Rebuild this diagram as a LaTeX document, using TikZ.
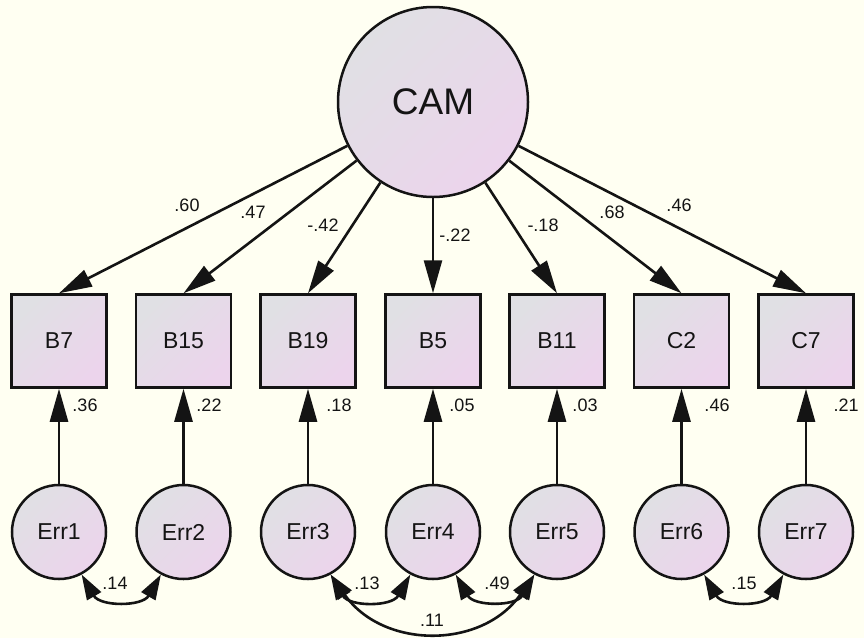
\documentclass[tikz,border=0pt]{standalone}
\usepackage{fontspec}
\setmainfont{Liberation Sans}
\usetikzlibrary{arrows.meta}
\definecolor{bg}{RGB}{255,255,242}
\definecolor{shA}{RGB}{224,224,228}
\definecolor{shB}{RGB}{236,212,236}
\definecolor{ink}{RGB}{20,20,20}
\begin{document}
\begin{tikzpicture}[x=1pt,y=1pt,
  lat/.style={circle, draw=ink, line width=2.5pt, top color=shA, bottom color=shB, shading angle=45, inner sep=0pt, minimum size=94pt, font=\fontsize{23}{25}\selectfont, text=ink},
  obs/.style={rectangle, draw=ink, line width=2.5pt, top color=shA, bottom color=shB, shading angle=45, inner sep=0pt, minimum width=95pt, minimum height=93pt, font=\fontsize{23}{25}\selectfont, text=ink},
  reg/.style={draw=ink, line width=2.6pt, -{Triangle[length=33pt,width=18pt]}},
  cov/.style={draw=ink, line width=2.6pt, {Triangle[length=25pt,width=16pt]}-{Triangle[length=25pt,width=16pt]}},
  lbl/.style={font=\fontsize{18}{20}\selectfont, text=ink, inner sep=0pt}
]
\useasboundingbox (0,0) rectangle (864,-638);
\fill[bg] (0,0) rectangle (864,-638);

\node[lat, minimum size=190pt, font=\fontsize{37}{40}\selectfont] (cam) at (433,-102) {CAM};

\node[obs] (b7)  at (59,-341)  {B7};
\node[obs] (b15) at (183.5,-341) {B15};
\node[obs] (b19) at (308,-341) {B19};
\node[obs] (b5)  at (433,-341) {B5};
\node[obs] (b11) at (557,-341) {B11};
\node[obs] (c2)  at (681.5,-341) {C2};
\node[obs] (c7)  at (806,-341) {C7};

\node[lat] (e1) at (59,-532) {Err1};
\node[lat] (e2) at (183.5,-532) {Err2};
\node[lat] (e3) at (308,-532) {Err3};
\node[lat] (e4) at (433,-532) {Err4};
\node[lat] (e5) at (557,-532) {Err5};
\node[lat] (e6) at (681.5,-532) {Err6};
\node[lat] (e7) at (806,-532) {Err7};

\draw[reg] (cam) -- (b7.north);
\draw[reg] (cam) -- (b15.north);
\draw[reg] (cam) -- (b19.north);
\draw[reg] (cam) -- (b5.north);
\draw[reg] (cam) -- (b11.north);
\draw[reg] (cam) -- (c2.north);
\draw[reg] (cam) -- (c7.north);

\draw[reg] (e1) -- (b7);
\draw[reg] (e2) -- (b15);
\draw[reg] (e3) -- (b19);
\draw[reg] (e4) -- (b5);
\draw[reg] (e5) -- (b11);
\draw[reg] (e6) -- (c2);
\draw[reg] (e7) -- (c7);

\draw[cov] (e1.-62) to[out=-60,in=-120,looseness=1.2] (e2.-118);
\draw[cov] (e3.-62) to[out=-60,in=-120,looseness=1.2] (e4.-118);
\draw[cov] (e4.-62) to[out=-60,in=-120,looseness=1.2] (e5.-118);
\draw[cov] (e6.-62) to[out=-60,in=-120,looseness=1.2] (e7.-118);
\draw[cov] (e3.-62) to[out=-55,in=-125,looseness=1.15] (e5.-118);

\node[lbl] (l1) at (187,-205) {.60};
\node[lbl] (l2) at (253,-212) {.47};
\node[lbl] (l3) at (323,-225) {-.42};
\node[lbl] (l4) at (455,-235) {-.22};
\node[lbl] (l5) at (543,-225) {-.18};
\node[lbl] (l6) at (612,-212) {.68};
\node[lbl] (l7) at (679,-205) {.46};

\node[lbl] (r1) at (85,-405) {.36};
\node[lbl] (r2) at (209,-405) {.22};
\node[lbl] (r3) at (339,-405) {.18};
\node[lbl] (r4) at (462,-405) {.05};
\node[lbl] (r5) at (585,-405) {.03};
\node[lbl] (r6) at (717,-405) {.46};
\node[lbl] (r7) at (846,-405) {.21};

\node[lbl] (k1) at (115,-583) {.14};
\node[lbl] (k2) at (367,-583) {.13};
\node[lbl] (k3) at (497,-583) {.49};
\node[lbl] (k4) at (744,-583) {.15};
\node[lbl] (k5) at (432,-620) {.11};
\end{tikzpicture}
\end{document}
